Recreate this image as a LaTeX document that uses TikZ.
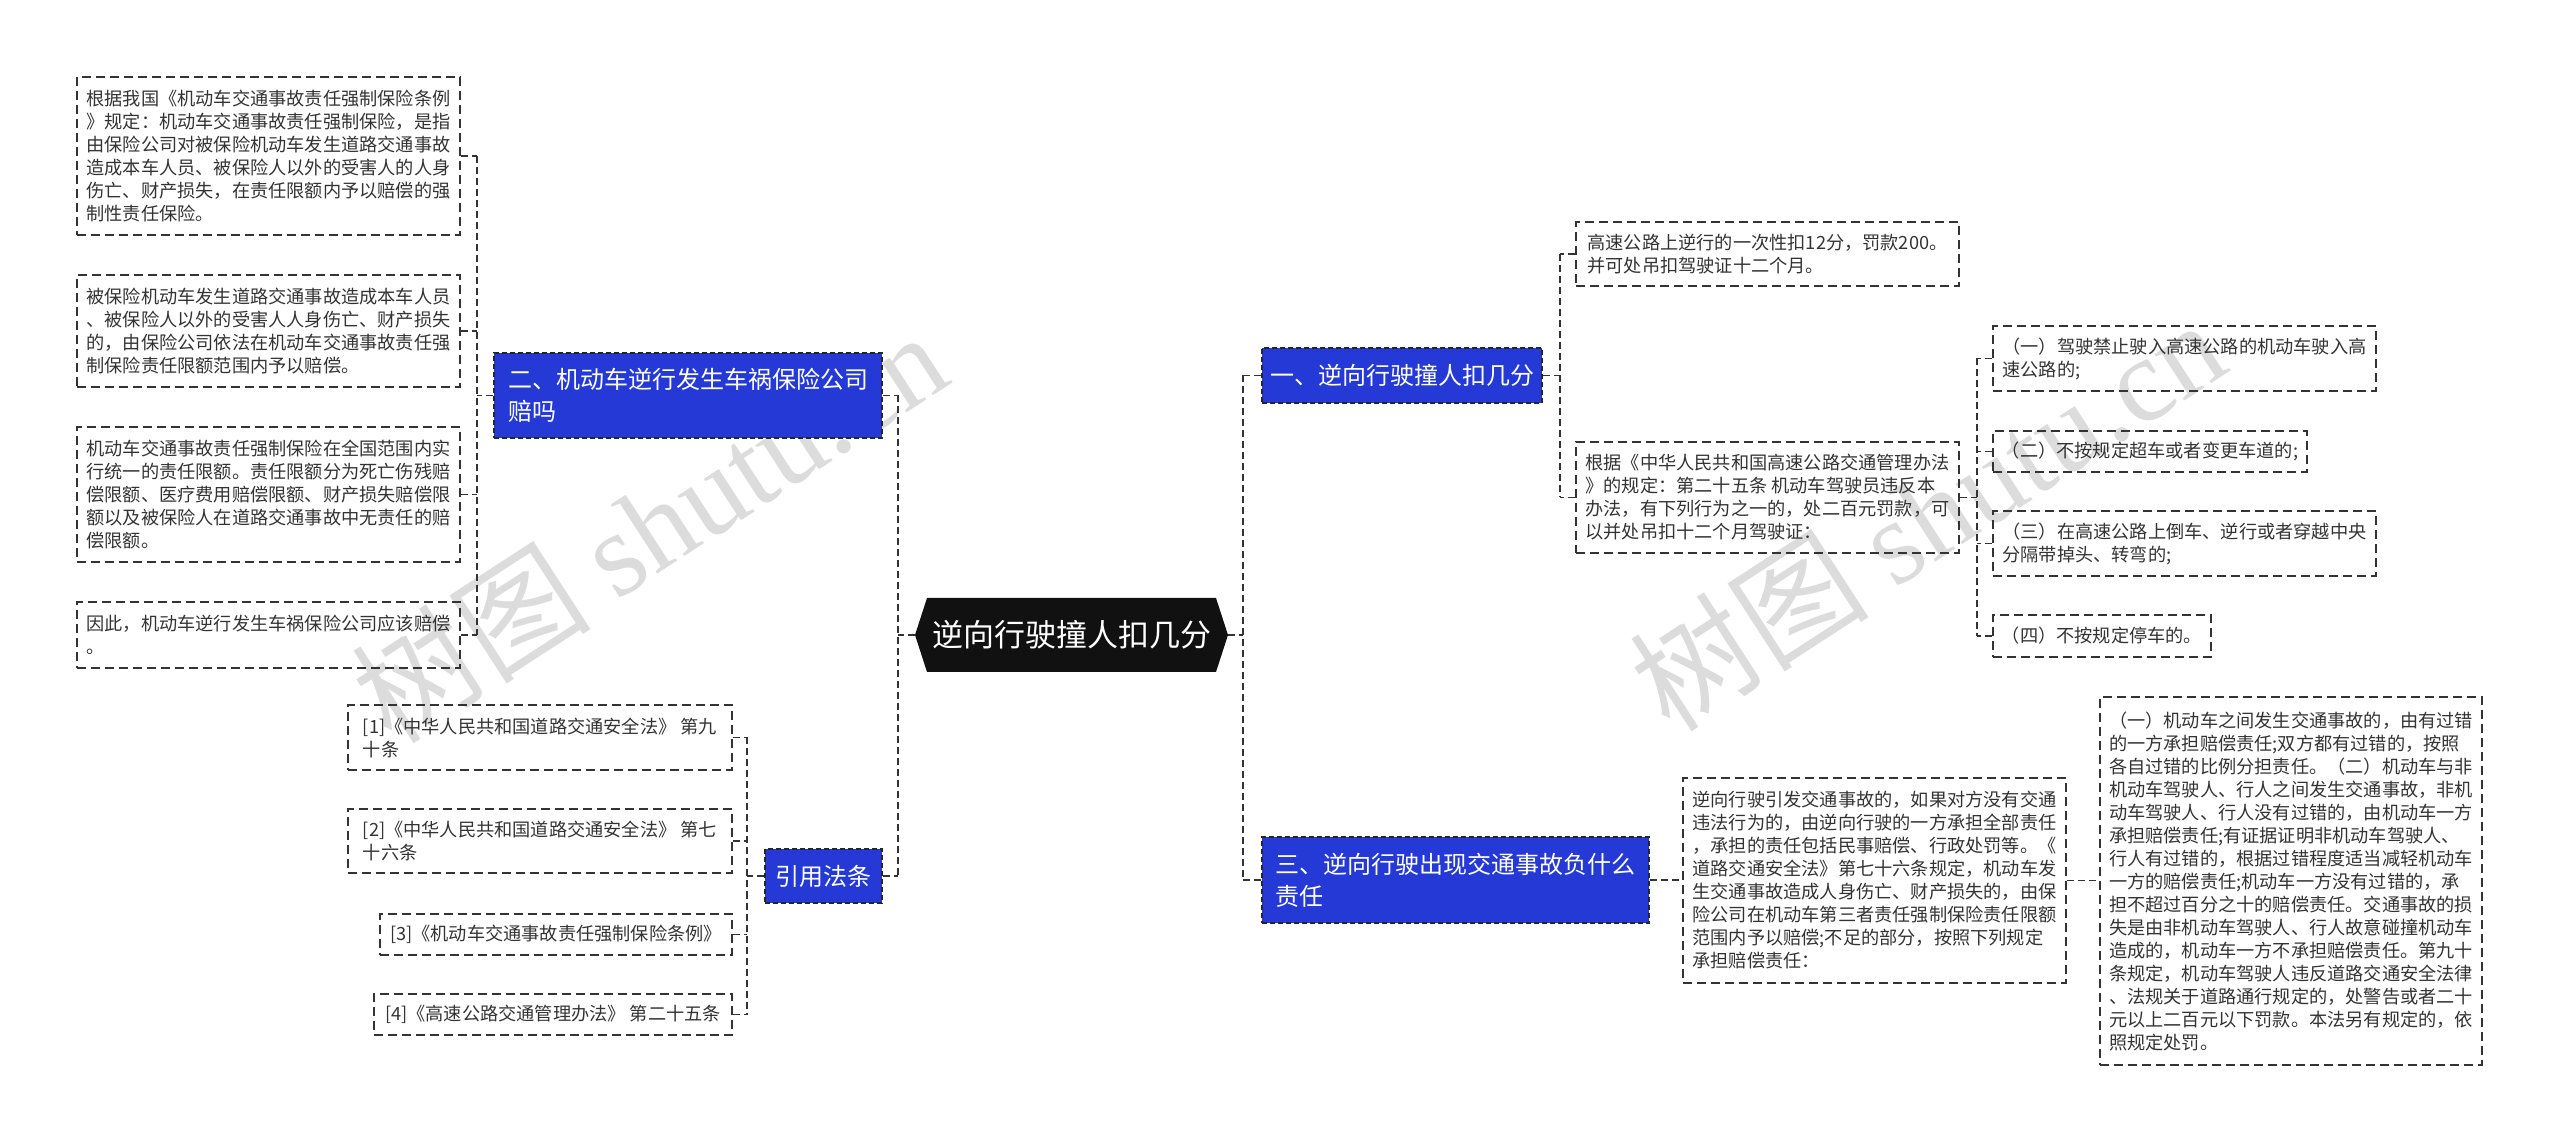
\documentclass[tikz,border=0pt]{standalone}
\usepackage{fontspec}
\setmainfont{Noto Sans CJK SC}
\newfontfamily\wmlatin{Liberation Serif}
\usetikzlibrary{calc}
\definecolor{nodeblue}{HTML}{2439D6}
\definecolor{leaftext}{HTML}{333333}
\definecolor{linec}{HTML}{333333}
\definecolor{rootblack}{HTML}{111111}
\definecolor{wmgray}{HTML}{DCDCDC}
\begin{document}
\begin{tikzpicture}[x=0.5pt,y=-0.5pt,
  leaf/.style={draw=linec, dash pattern=on 4.5pt off 2.5pt, line width=0.8pt, text=leaftext,
    font=\fontsize{9.1}{11.5}\selectfont, align=left, inner sep=0pt, rectangle},
  topic/.style={draw=black!85, fill=nodeblue, dash pattern=on 2.5pt off 1.5pt, line width=0.6pt,
    text=white, font=\fontsize{12}{16}\selectfont, align=left, inner sep=0pt, rectangle},
  conn/.style={draw=linec, dash pattern=on 3.5pt off 2pt, line width=0.9pt},
  wmark/.style={text=wmgray, font=\fontsize{60}{60}\selectfont, rotate=33, inner sep=0pt},
]
\useasboundingbox (0,0) rectangle (2560,1143);

% watermarks
\node[wmark] (wm1) at (649,526) {树图 {\wmlatin shutu.cn}};
\node[wmark] (wm2) at (1927,514) {树图 {\wmlatin shutu.cn}};

% spine coordinates
\coordinate (spL) at (898,0);
\coordinate (spR) at (1243,0);
\coordinate (spA) at (477,0);
\coordinate (spC) at (747,0);
\coordinate (spE) at (1560,0);
\coordinate (spG) at (1977,0);

% root
\node[inner sep=0pt, minimum width=156.5pt, minimum height=37pt, text=white,
  font=\fontsize{15.5}{18}\selectfont,
  path picture={\fill[rootblack] ([xshift=6pt]path picture bounding box.north west)
    -- ([xshift=-6pt]path picture bounding box.north east)
    -- (path picture bounding box.east)
    -- ([xshift=-6pt]path picture bounding box.south east)
    -- ([xshift=6pt]path picture bounding box.south west)
    -- (path picture bounding box.west) -- cycle;}]
  (root) at (1071.5,635) {逆向行驶撞人扣几分};

% left topics
\node[topic, minimum width=194pt, minimum height=42.5pt] (n2) at (688,395.5)
  {二、机动车逆行发生车祸保险公司\\赔吗};
\node[topic, minimum width=58.5pt, minimum height=27pt] (cite) at (823.5,876) {引用法条};

% left leaves
\node[leaf, minimum width=191.5pt, minimum height=79pt] (A) at (268.5,156)
  {根据我国《机动车交通事故责任强制保险条例\\》规定：机动车交通事故责任强制保险，是指\\由保险公司对被保险机动车发生道路交通事故\\造成本车人员、被保险人以外的受害人的人身\\伤亡、财产损失，在责任限额内予以赔偿的强\\制性责任保险。};
\node[leaf, minimum width=191.5pt, minimum height=56pt] (B) at (268.5,331)
  {被保险机动车发生道路交通事故造成本车人员\\、被保险人以外的受害人人身伤亡、财产损失\\的，由保险公司依法在机动车交通事故责任强\\制保险责任限额范围内予以赔偿。};
\node[leaf, minimum width=191.5pt, minimum height=67.5pt] (C) at (268.5,494.5)
  {机动车交通事故责任强制保险在全国范围内实\\行统一的责任限额。责任限额分为死亡伤残赔\\偿限额、医疗费用赔偿限额、财产损失赔偿限\\额以及被保险人在道路交通事故中无责任的赔\\偿限额。};
\node[leaf, minimum width=191.5pt, minimum height=33pt] (D) at (268.5,635)
  {因此，机动车逆行发生车祸保险公司应该赔偿\\。};

% citations
\node[leaf, minimum width=192pt, minimum height=32.5pt] (c1) at (540,737.5)
  {[1]《中华人民共和国道路交通安全法》 第九\\十条};
\node[leaf, minimum width=192pt, minimum height=32pt] (c2) at (540,841)
  {[2]《中华人民共和国道路交通安全法》 第七\\十六条};
\node[leaf, minimum width=176pt, minimum height=20.5pt] (c3) at (556,934.5)
  {[3]《机动车交通事故责任强制保险条例》};
\node[leaf, minimum width=179pt, minimum height=20.5pt] (c4) at (553,1014.5)
  {[4]《高速公路交通管理办法》 第二十五条};

% right topics
\node[topic, minimum width=140pt, minimum height=27.5pt] (n1) at (1402,375.5) {一、逆向行驶撞人扣几分};
\node[topic, minimum width=193.5pt, minimum height=43pt] (n3) at (1455.5,880)
  {三、逆向行驶出现交通事故负什么\\责任};

% right leaves
\node[leaf, minimum width=191.5pt, minimum height=32pt] (E) at (1767.5,254)
  {高速公路上逆行的一次性扣12分，罚款200。\\并可处吊扣驾驶证十二个月。};
\node[leaf, minimum width=191.5pt, minimum height=55.5pt] (F) at (1767.5,497.5)
  {根据《中华人民共和国高速公路交通管理办法\\》的规定：第二十五条 机动车驾驶员违反本\\办法，有下列行为之一的，处二百元罚款，可\\以并处吊扣十二个月驾驶证：};
\node[leaf, minimum width=191.5pt, minimum height=32.5pt] (G1) at (2184.5,358.5)
  {（一）驾驶禁止驶入高速公路的机动车驶入高\\速公路的;};
\node[leaf, minimum width=157pt, minimum height=20.5pt] (G2) at (2150,451.5)
  {（二）不按规定超车或者变更车道的;};
\node[leaf, minimum width=191.5pt, minimum height=32.5pt] (G3) at (2184.5,543.5)
  {（三）在高速公路上倒车、逆行或者穿越中央\\分隔带掉头、转弯的;};
\node[leaf, minimum width=109pt, minimum height=21pt] (G4) at (2102,636)
  {（四）不按规定停车的。};
\node[leaf, minimum width=191.5pt, minimum height=102.5pt] (H) at (1874.5,880.5)
  {逆向行驶引发交通事故的，如果对方没有交通\\违法行为的，由逆向行驶的一方承担全部责任\\，承担的责任包括民事赔偿、行政处罚等。《\\道路交通安全法》第七十六条规定，机动车发\\生交通事故造成人身伤亡、财产损失的，由保\\险公司在机动车第三者责任强制保险责任限额\\范围内予以赔偿;不足的部分，按照下列规定\\承担赔偿责任：};
\node[leaf, minimum width=191pt, minimum height=184pt] (I) at (2291,881)
  {（一）机动车之间发生交通事故的，由有过错\\的一方承担赔偿责任;双方都有过错的，按照\\各自过错的比例分担责任。（二）机动车与非\\机动车驾驶人、行人之间发生交通事故，非机\\动车驾驶人、行人没有过错的，由机动车一方\\承担赔偿责任;有证据证明非机动车驾驶人、\\行人有过错的，根据过错程度适当减轻机动车\\一方的赔偿责任;机动车一方没有过错的，承\\担不超过百分之十的赔偿责任。交通事故的损\\失是由非机动车驾驶人、行人故意碰撞机动车\\造成的，机动车一方不承担赔偿责任。第九十\\条规定，机动车驾驶人违反道路交通安全法律\\、法规关于道路通行规定的，处警告或者二十\\元以上二百元以下罚款。本法另有规定的，依\\照规定处罚。};

% connectors: root left
\draw[conn] (root.west) -- (root.west -| spL);
\draw[conn] (n2.east -| spL) -- (cite.east -| spL);
\draw[conn] (n2.east) -- (n2.east -| spL);
\draw[conn] (cite.east) -- (cite.east -| spL);
% n2 children
\draw[conn] (n2.west) -- (n2.west -| spA);
\draw[conn] (A.east -| spA) -- (D.east -| spA);
\foreach \c in {A,B,C,D} { \draw[conn] (\c.east) -- (\c.east -| spA); }
% cite children
\draw[conn] (cite.west) -- (cite.west -| spC);
\draw[conn] (c1.east -| spC) -- (c4.east -| spC);
\foreach \c in {c1,c2,c3,c4} { \draw[conn] (\c.east) -- (\c.east -| spC); }
% root right
\draw[conn] (root.east) -- (root.east -| spR);
\draw[conn] (n1.west -| spR) -- (n3.west -| spR);
\draw[conn] (n1.west) -- (n1.west -| spR);
\draw[conn] (n3.west) -- (n3.west -| spR);
% n1 children
\draw[conn] (n1.east) -- (n1.east -| spE);
\draw[conn] (E.west -| spE) -- (F.west -| spE);
\draw[conn] (E.west) -- (E.west -| spE);
\draw[conn] (F.west) -- (F.west -| spE);
% F children
\draw[conn] (F.east) -- (F.east -| spG);
\draw[conn] (G1.west -| spG) -- (G4.west -| spG);
\foreach \c in {G1,G2,G3,G4} { \draw[conn] (\c.west) -- (\c.west -| spG); }
% n3 chain
\draw[conn] (n3.east) -- (n3.east -| H.west);
\draw[conn] (H.east) -- (H.east -| I.west);
\end{tikzpicture}
\end{document}
